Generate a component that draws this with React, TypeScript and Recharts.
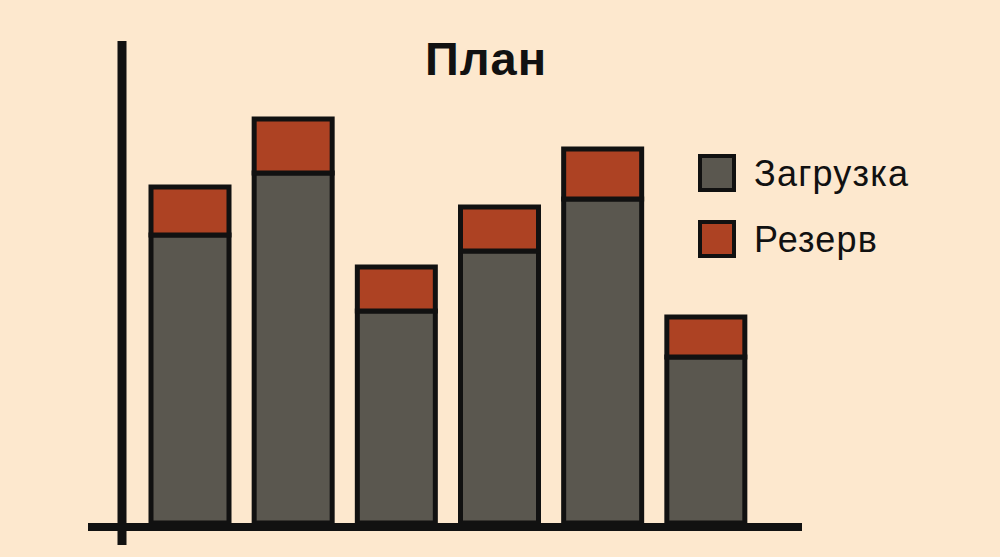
import { BarChart, Bar, XAxis, YAxis, Legend } from "recharts";

const categories = ["1", "2", "3", "4", "5", "6"];
const zagruzka = [72, 87.5, 53, 68, 81, 41.5];
const rezerv = [12, 13.5, 11, 11, 12.5, 10];

const seriesNames = { zagruzka: "Загрузка", rezerv: "Резерв" };
const title = "План";

const data = categories.map((c, i) => ({
  cat: c,
  zagruzka: zagruzka[i],
  rezerv: rezerv[i],
}));

const BG = "#fde8ce";
const INK = "#111111";
const GRAY = "#5a574f";
const RED = "#ad4223";
const FONT = "'Liberation Sans', Arial, Helvetica, sans-serif";

function LegendBox({ payload }: any) {
  const items = payload || [];
  return (
    <svg width={240} height={110} style={{ display: "block", overflow: "visible" }}>
      {items.map((p: any, i: number) => (
        <g key={p.value} transform={`translate(0, ${i * 66})`}>
          <rect x={2} y={2} width={34} height={34} fill={p.color} stroke={INK} strokeWidth={4} />
          <text x={56} y={32} fontSize={36} letterSpacing={1.2} fontFamily={FONT} fill={INK}>
            {p.value}
          </text>
        </g>
      ))}
    </svg>
  );
}

export default function App() {
  return (
    <div style={{ position: "relative", width: 1000, height: 557, background: BG }}>
      <style>{`body{margin:0}`}</style>
      <BarChart
        width={1000}
        height={557}
        data={data}
        margin={{ top: 43, right: 243, bottom: 34, left: 138 }}
        barCategoryGap={0}
      >
        <XAxis dataKey="cat" hide />
        <YAxis hide domain={[0, 120]} />
        <Legend
          content={<LegendBox />}
          layout="vertical"
          verticalAlign="middle"
          align="center"
          wrapperStyle={{ position: "absolute", left: 698, top: 154, width: 240 }}
        />
        <Bar
          dataKey="zagruzka"
          name={seriesNames.zagruzka}
          stackId="a"
          fill={GRAY}
          stroke={INK}
          strokeWidth={5}
          barSize={78}
          isAnimationActive={false}
        />
        <Bar
          dataKey="rezerv"
          name={seriesNames.rezerv}
          stackId="a"
          fill={RED}
          stroke={INK}
          strokeWidth={5}
          barSize={78}
          isAnimationActive={false}
        />
      </BarChart>
      <svg
        width={1000}
        height={557}
        style={{ position: "absolute", left: 0, top: 0, pointerEvents: "none" }}
      >
        <line x1={122} y1={41} x2={122} y2={545} stroke={INK} strokeWidth={9} />
        <line x1={88} y1={527} x2={802} y2={527} stroke={INK} strokeWidth={8} />
        <text
          x={486}
          y={75}
          textAnchor="middle"
          fontSize={47}
          letterSpacing={1}
          fontWeight="bold"
          fontFamily={FONT}
          fill={INK}
        >
          {title}
        </text>
      </svg>
    </div>
  );
}
